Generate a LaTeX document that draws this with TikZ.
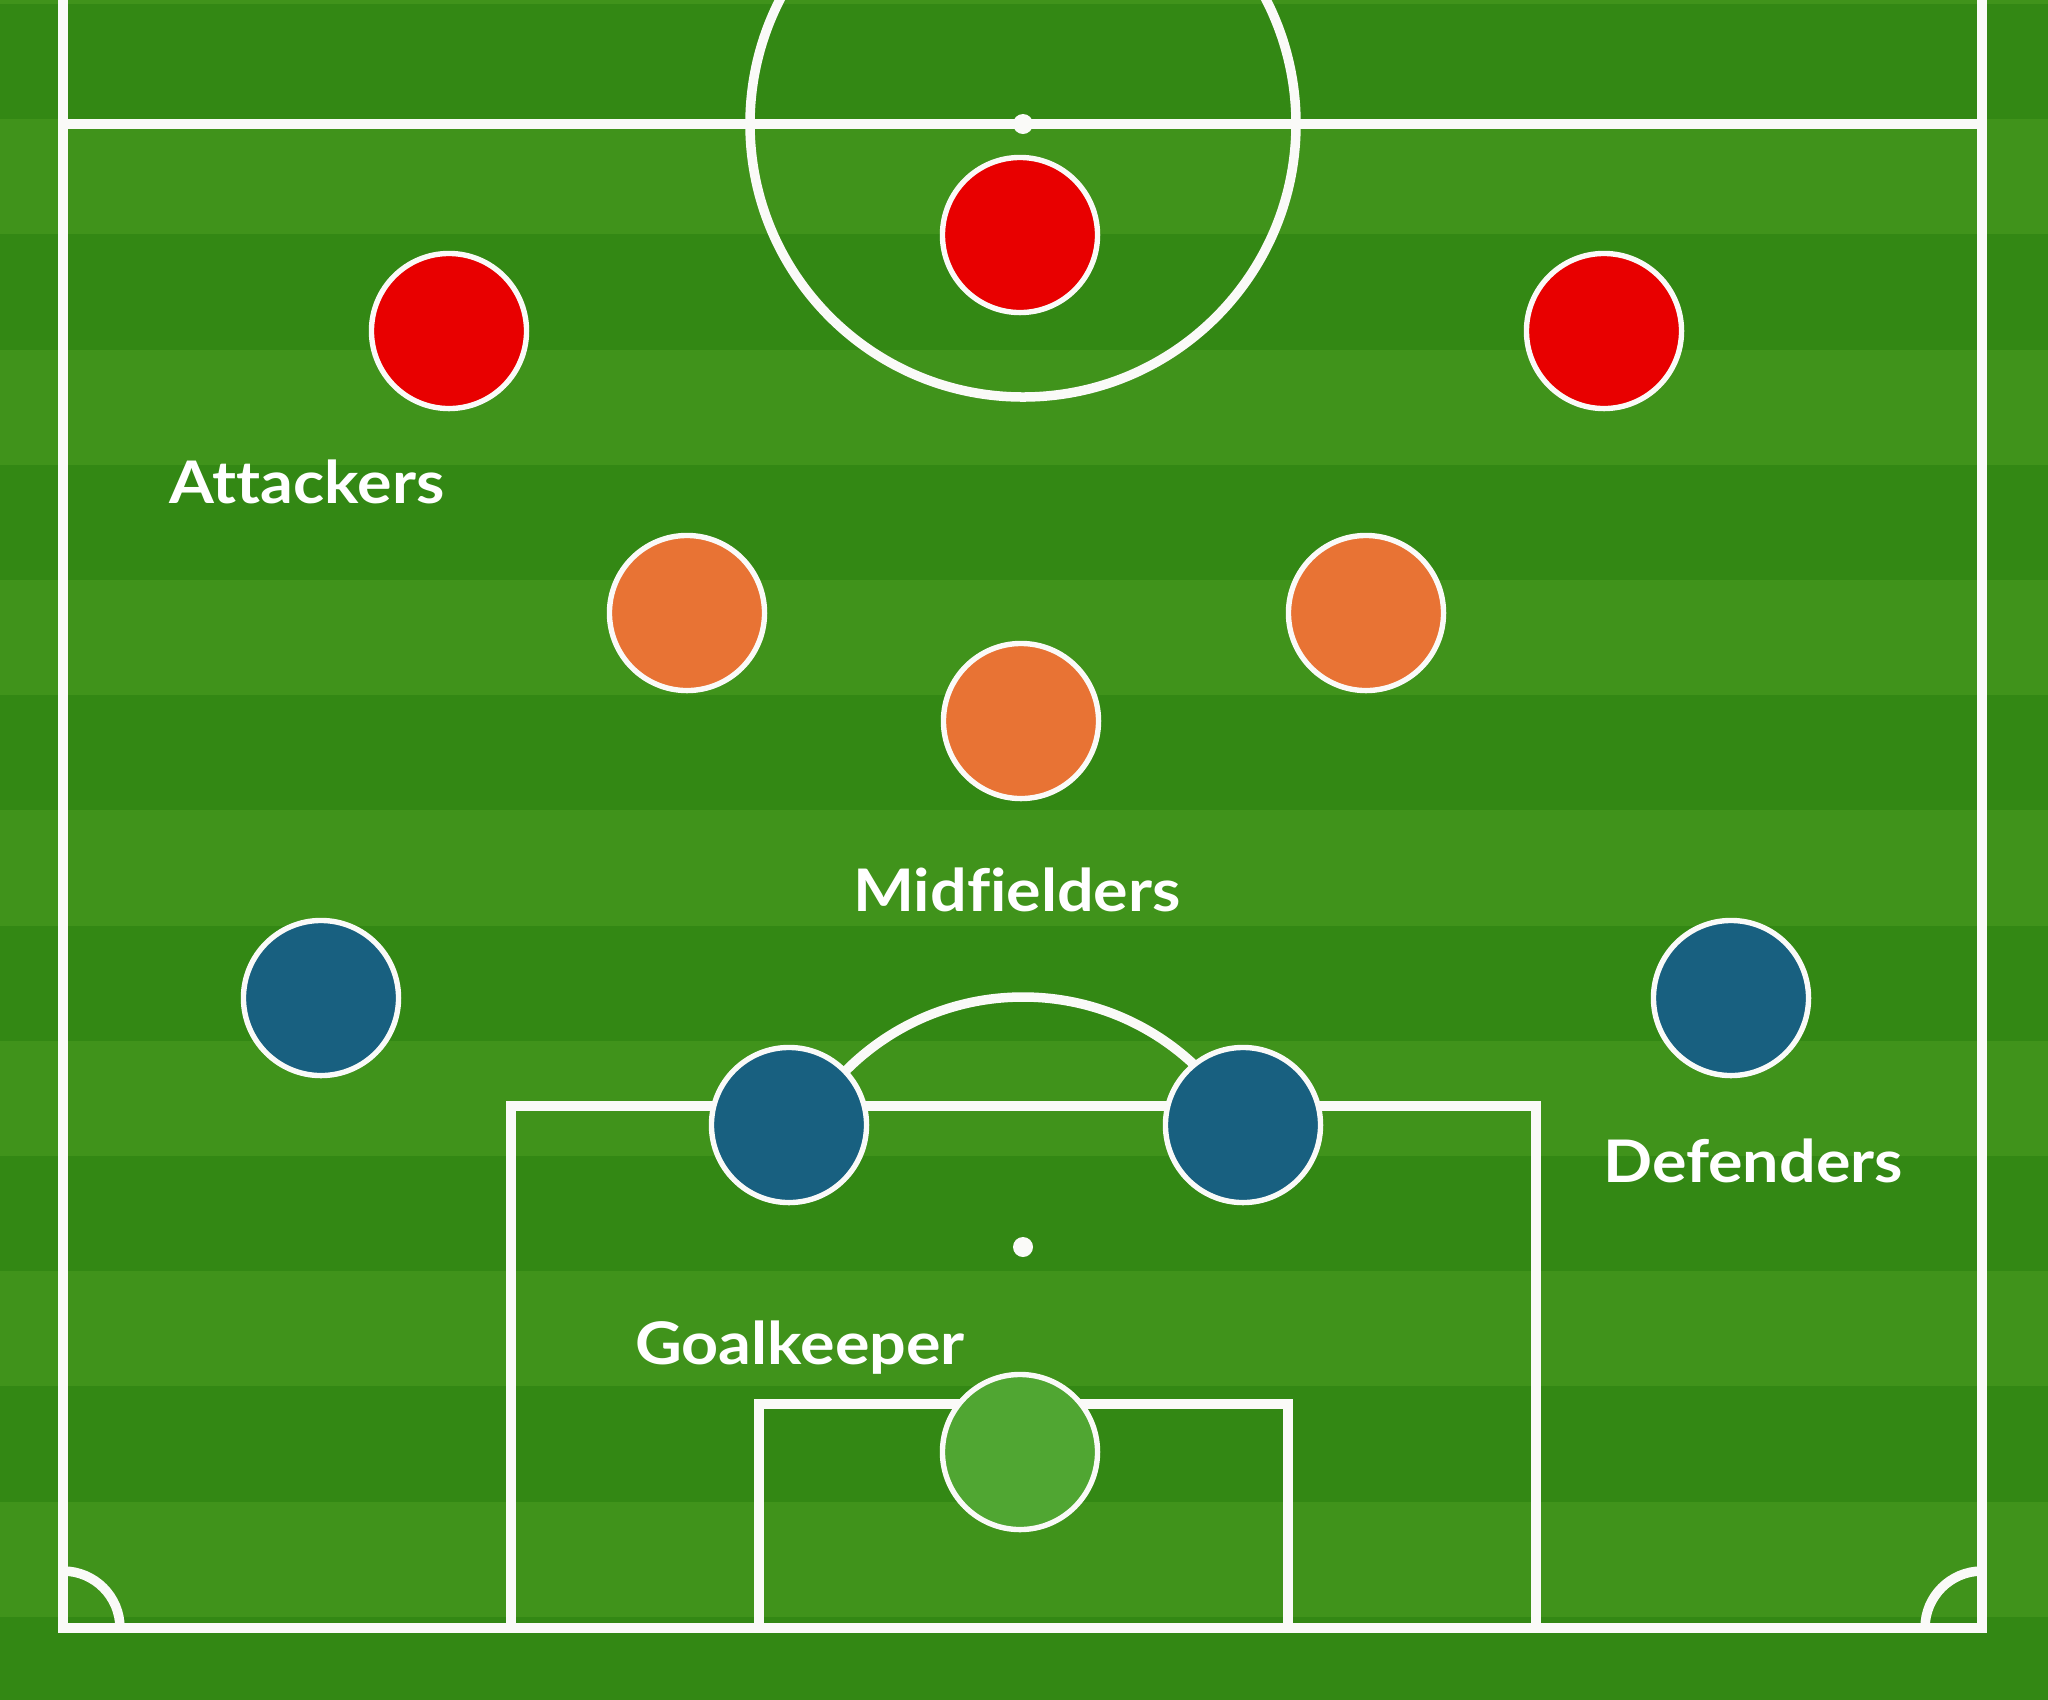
\documentclass[tikz,border=0pt]{standalone}
\usepackage{fontspec}
\setmainfont{Lato}[Ligatures=NoCommon, FakeStretch=1.1]
\definecolor{darkgrass}{RGB}{51,136,20}
\definecolor{lightgrass}{RGB}{64,147,27}
\definecolor{attackred}{RGB}{232,0,0}
\definecolor{midorange}{RGB}{232,115,52}
\definecolor{defblue}{RGB}{24,96,128}
\definecolor{keepgreen}{RGB}{80,166,50}
\definecolor{chalk}{RGB}{250,250,248}
\tikzset{
  pitchline/.style={draw=chalk, line width=0.095cm, line join=miter},
  player/.style={circle, draw=chalk, line width=0.054cm, minimum size=1.55cm, inner sep=0pt},
  label/.style={text=white, font=\bfseries\fontsize{16.7}{20}\selectfont, anchor=base, inner sep=0pt},
  spot/.style={circle, fill=chalk, minimum size=0.2cm, inner sep=0pt}
}
\begin{document}
\begin{tikzpicture}[x=0.01cm, y=-0.01cm]
\useasboundingbox (0,0) rectangle (2048,1699);
% grass stripes
\fill[lightgrass] (0,0) rectangle (2048,1699);
\foreach \k in {0,2,...,14} {
  \fill[darkgrass] (0,{4+115.2*\k}) rectangle (2048,{4+115.2*(\k+1)});
}
% pitch markings
\begin{scope}
  \clip (0,0) rectangle (2048,1699);
  \draw[pitchline] (1023,124) circle[radius=273];
\end{scope}
\draw[pitchline] (63,-20) -- (63,1628) -- (1982,1628) -- (1982,-20);
\draw[pitchline] (63,124) -- (1982,124);
\draw[pitchline] (511,1628) -- (511,1106) -- (1536,1106) -- (1536,1628);
\draw[pitchline] (759,1628) -- (759,1404) -- (1288,1404) -- (1288,1628);
\begin{scope}
  \clip (0,0) rectangle (2048,1106);
  \draw[pitchline] (1023,1247) circle[radius=250];
\end{scope}
\draw[pitchline] (63,1571) arc[start angle=270, end angle=360, radius=57];
\draw[pitchline] (1925,1628) arc[start angle=180, end angle=270, radius=57];
\node[spot] (centrespot) at (1023,124) {};
\node[spot] (penspot) at (1023,1247) {};
% players
\node[player, fill=attackred] (a1) at (449,331) {};
\node[player, fill=attackred] (a2) at (1020,235) {};
\node[player, fill=attackred] (a3) at (1604,331) {};
\node[player, fill=midorange] (m1) at (687,613) {};
\node[player, fill=midorange] (m2) at (1366,613) {};
\node[player, fill=midorange] (m3) at (1021,721) {};
\node[player, fill=defblue] (d1) at (321,998) {};
\node[player, fill=defblue] (d2) at (789,1125) {};
\node[player, fill=defblue] (d3) at (1243,1125) {};
\node[player, fill=defblue] (d4) at (1731,998) {};
\node[player, fill=keepgreen] (gk) at (1020,1452) {};
% labels
\node[label] (latt) at (307,503) {Attackers};
\node[label] (lmid) at (1017,911) {Midfielders};
\node[label] (ldef) at (1753,1182) {Defenders};
\node[label] (lgk) at (800,1364) {Goalkeeper};
\end{tikzpicture}
\end{document}
